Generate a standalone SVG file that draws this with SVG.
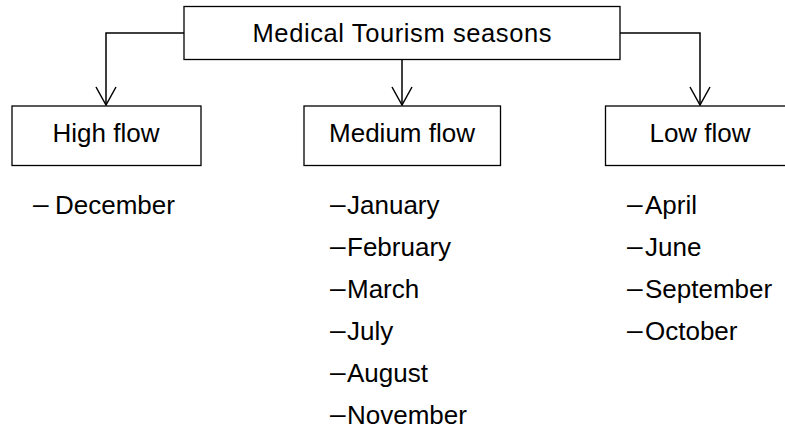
<svg xmlns="http://www.w3.org/2000/svg" width="785" height="429" viewBox="0 0 785 429">
<style>
  .box { fill: #fff; stroke: #000; stroke-width: 1.3; }
  .lbl { font-family: "Liberation Sans", Arial, sans-serif; font-size: 26px; fill: #000; }
  .mid { text-anchor: middle; }
  .dash { font-size: 28px; }
  .conn { fill: none; stroke: #000; stroke-width: 1.5; }
</style>
<rect width="785" height="429" fill="#fff"/>
<g id="connectors">
  <path class="conn" d="M184,33 H106 V105"/>
  <path class="conn" d="M96,87 L106,105 L116,87"/>
  <path class="conn" d="M402,59 V105"/>
  <path class="conn" d="M392,87 L402,105 L412,87"/>
  <path class="conn" d="M620,33 H700 V105"/>
  <path class="conn" d="M690,87 L700,105 L710,87"/>
</g>
<g id="root">
  <rect class="box" x="184" y="6.5" width="436" height="53"/>
  <text class="lbl mid" x="402" y="42" textLength="299" lengthAdjust="spacing" style="font-size:25.5px">Medical Tourism seasons</text>
</g>
<g id="high">
  <rect class="box" x="12" y="106" width="189" height="59.5"/>
  <text class="lbl mid" x="106" y="142">High flow</text>
</g>
<g id="medium">
  <rect class="box" x="304" y="106" width="196.5" height="59.5"/>
  <text class="lbl mid" x="402" y="142">Medium flow</text>
</g>
<g id="low">
  <rect class="box" x="605.5" y="106" width="190" height="59.5"/>
  <text class="lbl mid" x="700" y="142">Low flow</text>
</g>
<g id="high-list" class="lbl">
  <text y="214"><tspan class="dash" x="33" dy="-1">–</tspan><tspan x="55" dy="1">December</tspan></text>
</g>
<g id="medium-list" class="lbl">
  <text y="214"><tspan class="dash" x="330" dy="-1">–</tspan><tspan x="347" dy="1">January</tspan></text>
  <text y="256"><tspan class="dash" x="330" dy="-1">–</tspan><tspan x="347" dy="1">February</tspan></text>
  <text y="298"><tspan class="dash" x="330" dy="-1">–</tspan><tspan x="347" dy="1">March</tspan></text>
  <text y="340"><tspan class="dash" x="330" dy="-1">–</tspan><tspan x="347" dy="1">July</tspan></text>
  <text y="382"><tspan class="dash" x="330" dy="-1">–</tspan><tspan x="347" dy="1">August</tspan></text>
  <text y="424"><tspan class="dash" x="330" dy="-1">–</tspan><tspan x="347" dy="1">November</tspan></text>
</g>
<g id="low-list" class="lbl">
  <text y="214"><tspan class="dash" x="627" dy="-1">–</tspan><tspan x="645" dy="1">April</tspan></text>
  <text y="256"><tspan class="dash" x="627" dy="-1">–</tspan><tspan x="645" dy="1">June</tspan></text>
  <text y="298"><tspan class="dash" x="627" dy="-1">–</tspan><tspan x="645" dy="1">September</tspan></text>
  <text y="340"><tspan class="dash" x="627" dy="-1">–</tspan><tspan x="645" dy="1">October</tspan></text>
</g>
</svg>
